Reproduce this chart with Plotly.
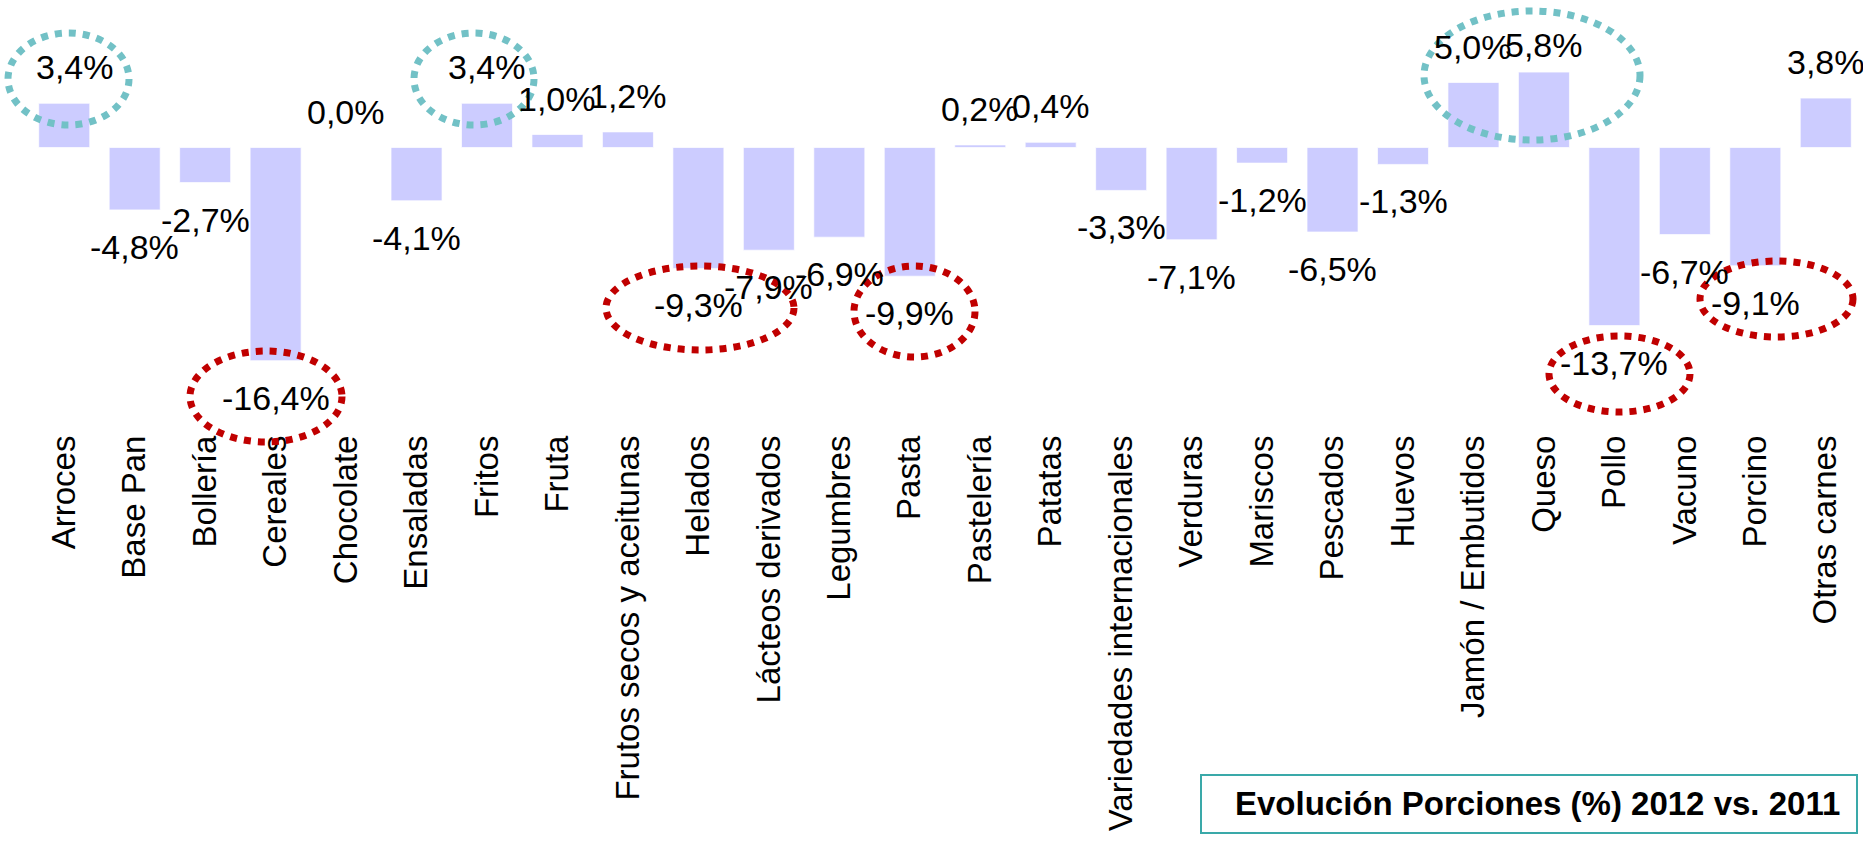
import plotly.graph_objects as go

# ---------------- data ----------------
categories = [
    "Arroces", "Base Pan", "Bollería", "Cereales", "Chocolate", "Ensaladas",
    "Fritos", "Fruta", "Frutos secos y aceitunas", "Helados",
    "Lácteos derivados", "Legumbres", "Pasta", "Pastelería", "Patatas",
    "Variedades internacionales", "Verduras", "Mariscos", "Pescados",
    "Huevos", "Jamón / Embutidos", "Queso", "Pollo", "Vacuno", "Porcino",
    "Otras carnes",
]
values = [3.4, -4.8, -2.7, -16.4, 0.0, -4.1, 3.4, 1.0, 1.2, -9.3, -7.9, -6.9,
          -9.9, 0.2, 0.4, -3.3, -7.1, -1.2, -6.5, -1.3, 5.0, 5.8, -13.7, -6.7,
          -9.1, 3.8]
box_title = "Evolución Porciones (%) 2012 vs. 2011"

# ---------------- layout constants ----------------
W, H = 1863, 843
ML, MR, MT, MB = 29, 2, 0, 415
PLOT_H = H - MT - MB
ZERO_PX = 147.5          # pixel row of the zero line
PX_PER_UNIT = 13.0       # pixels per 1 %
y_max = ZERO_PX / PX_PER_UNIT
y_min = -(PLOT_H - ZERO_PX) / PX_PER_UNIT

FONT = "Liberation Sans, Arial, sans-serif"
BAR_COLOR = "#CCCCFF"
TEAL = "#72C1C6"
RED = "#C00000"
BOX_TEAL = "#3AA9A9"

# label pixel offsets (dx, dy) for manually nudged labels
label_nudge = {"Arroces": (11, 0), "Queso": (0, -9)}


def px_x(px):
    return (px - ML) / (W - ML - MR)


def px_y(py):
    return (H - MB - py) / PLOT_H


def fmt(v):
    return f"{v:.1f}".replace(".", ",") + "%"


fig = go.Figure()
fig.add_trace(go.Bar(
    x=categories, y=values,
    marker=dict(color=BAR_COLOR, line=dict(color="rgba(255,255,255,0.7)", width=1)),
    hoverinfo="x+y",
))

annotations = []
for c, v in zip(categories, values):
    dx, dy = label_nudge.get(c, (0, 0))
    base = 36 if v >= 0 else -37
    annotations.append(dict(
        x=c, y=v, xref="x", yref="y", text=fmt(v), showarrow=False,
        xanchor="center", yanchor="middle", xshift=dx, yshift=base + dy,
        font=dict(family=FONT, size=34, color="black"),
    ))

# title box text
annotations.append(dict(
    x=px_x(1537), y=px_y(803.5), xref="paper", yref="paper",
    text="<b>" + box_title + "</b>", showarrow=False,
    xanchor="center", yanchor="middle",
    font=dict(family=FONT, size=33, color="black"),
))

# highlight ellipses (pixel centre-line boxes)
ellipses = [
    (8, 129, 33, 125, TEAL),
    (414, 534, 33, 125, TEAL),
    (1424, 1640, 11, 140, TEAL),
    (190, 342, 351, 442, RED),
    (606, 794, 266, 350, RED),
    (854, 975, 266, 357, RED),
    (1549, 1690, 336, 412, RED),
    (1700, 1853, 261, 337, RED),
]
shapes = []
for x0, x1, y0, y1, col in ellipses:
    shapes.append(dict(
        type="circle", xref="paper", yref="paper",
        x0=px_x(x0), x1=px_x(x1), y0=px_y(y1), y1=px_y(y0),
        line=dict(color=col, width=7, dash="dot"), layer="above",
    ))
shapes.append(dict(
    type="rect", xref="paper", yref="paper",
    x0=px_x(1201), x1=px_x(1857), y0=px_y(833), y1=px_y(775),
    line=dict(color=BOX_TEAL, width=2), fillcolor="rgba(0,0,0,0)", layer="above",
))

fig.update_layout(
    width=W, height=H,
    margin=dict(l=ML, r=MR, t=MT, b=MB, pad=0),
    paper_bgcolor="white", plot_bgcolor="white",
    bargap=0.276,
    showlegend=False,
    annotations=annotations,
    shapes=shapes,
    xaxis=dict(
        type="category", range=[-0.5, len(categories) - 0.5],
        tickangle=-90, ticks="", showline=False, showgrid=False, zeroline=False,
        tickfont=dict(family=FONT, size=33, color="black"),
        automargin=False,
    ),
    yaxis=dict(
        range=[y_min, y_max], visible=False, showgrid=False, zeroline=False,
        automargin=False,
    ),
)

fig.write_html(
    "out.html",
    config={"displayModeBar": False},
    post_script="document.body.style.margin='0px';document.body.style.overflow='hidden';",
)
